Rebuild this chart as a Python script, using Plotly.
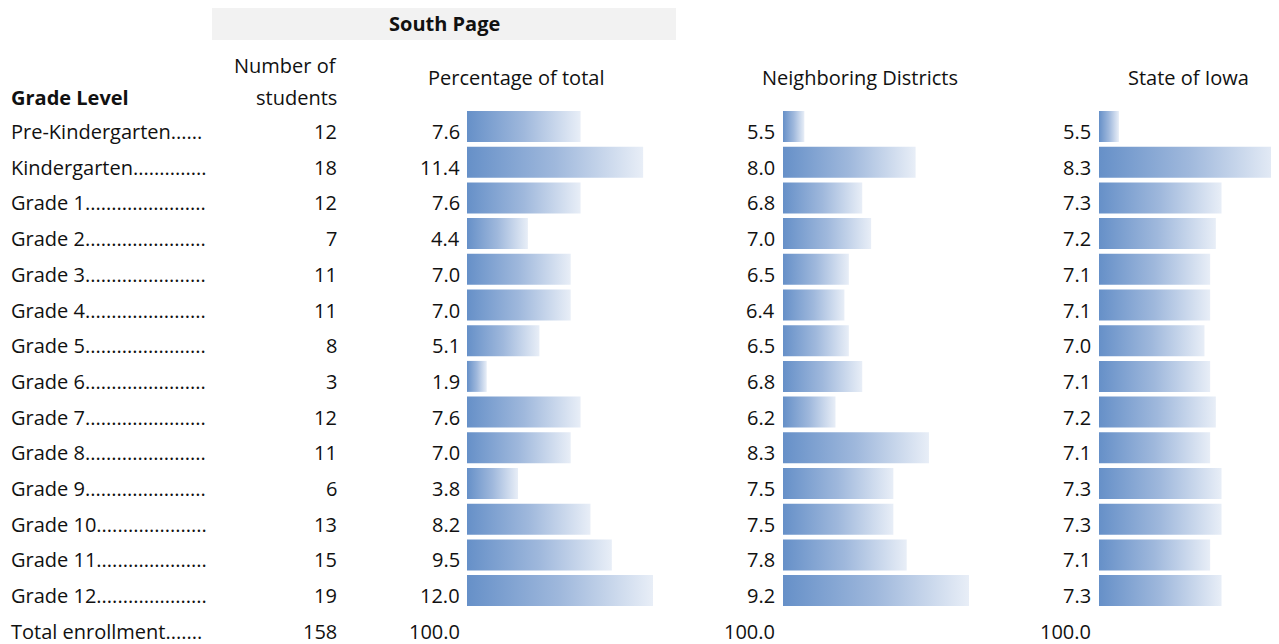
import plotly.graph_objects as go

# ---------------- data ----------------
grade_labels = [
    "Pre-Kindergarten......",
    "Kindergarten..............",
    "Grade 1.......................",
    "Grade 2.......................",
    "Grade 3.......................",
    "Grade 4.......................",
    "Grade 5.......................",
    "Grade 6.......................",
    "Grade 7.......................",
    "Grade 8.......................",
    "Grade 9.......................",
    "Grade 10.....................",
    "Grade 11.....................",
    "Grade 12.....................",
]
total_label = "Total enrollment......."

students = [12, 18, 12, 7, 11, 11, 8, 3, 12, 11, 6, 13, 15, 19]
students_total = 158

pct_total = [7.6, 11.4, 7.6, 4.4, 7.0, 7.0, 5.1, 1.9, 7.6, 7.0, 3.8, 8.2, 9.5, 12.0]
neighboring = [5.5, 8.0, 6.8, 7.0, 6.5, 6.4, 6.5, 6.8, 6.2, 8.3, 7.5, 7.5, 7.8, 9.2]
state_iowa = [5.5, 8.3, 7.3, 7.2, 7.1, 7.1, 7.0, 7.1, 7.2, 7.1, 7.3, 7.3, 7.1, 7.3]
column_totals = ["100.0", "100.0", "100.0"]

title_group = "South Page"
col_headers = ["Percentage of total", "Neighboring Districts", "State of Iowa"]

# ---------------- layout constants ----------------
OFF = 8                      # page body margin of the browser
W, H = 1279 - OFF, 644 - OFF  # figure size
ROW0_PX, ROW_PITCH = 126.5, 35.7   # screen px of first row centre, row pitch
BAR_HALF = 0.434
FONT = "Open Sans, Lato, sans-serif"
FS = 20
TXT = "#111111"
GRAD = [[0, "#6690c8"], [0.5, "#9fb8dc"], [1, "#e8eef7"]]

# per column: (axis name, value at axis start, screen px of start, px per unit, values, label right px)
columns = [
    ("x", 0.70, 467.0, 16.46, pct_total, 462),
    ("x2", 5.02, 783.0, 44.5, neighboring, 777),
    ("x3", 5.15, 1099.0, 57.0, state_iowa, 1093),
]

def px_x(p):
    return (p - OFF) / W

def px_y(p):
    return 1 - (p - OFF) / H

fig = go.Figure()
n = len(grade_labels)

for axname, base, start_px, ppu, vals, lab_px in columns:
    for i, v in enumerate(vals):
        fig.add_trace(go.Scatter(
            x=[base, v, v, base, base],
            y=[i - BAR_HALF, i - BAR_HALF, i + BAR_HALF, i + BAR_HALF, i - BAR_HALF],
            xaxis=axname, yaxis="y",
            mode="lines", fill="toself",
            fillgradient=dict(type="horizontal", colorscale=GRAD),
            line=dict(width=0, color="rgba(0,0,0,0)"),
            hoverinfo="skip", showlegend=False,
        ))

# axes ranges derived from pixel scales
layout_axes = {}
for axname, base, start_px, ppu, vals, lab_px in columns:
    s = start_px - OFF
    lo = base - s / ppu
    hi = base + (W - s) / ppu
    key = "xaxis" if axname == "x" else "xaxis" + axname[1:]
    ax = dict(range=[lo, hi], domain=[0, 1], visible=False, fixedrange=True)
    if axname != "x":
        ax["overlaying"] = "x"
    layout_axes[key] = ax

r0 = ROW0_PX - OFF
y_lo = (H - r0) / ROW_PITCH
y_hi = -r0 / ROW_PITCH

annotations = []
TEXT_SHIFT = -5

def add_text(text, xpx, y, xanchor, bold=False, yref="y", size=FS):
    annotations.append(dict(
        text=("<b>%s</b>" % text) if bold else text,
        x=px_x(xpx), xref="paper", y=y, yref=yref,
        xanchor=xanchor, yanchor="middle", showarrow=False,
        yshift=TEXT_SHIFT if yref == "y" else 0,
        font=dict(family=FONT, size=size, color=TXT),
    ))

# row labels and student counts
for i in range(n):
    add_text(grade_labels[i], 9, i, "left")
    add_text(str(students[i]), 339, i, "right")
add_text(total_label, 9, n, "left")
add_text(str(students_total), 339, n, "right")

# value labels (percent columns)
for axname, base, start_px, ppu, vals, lab_px in columns:
    for i, v in enumerate(vals):
        add_text("%.1f" % v, lab_px, i, "right")
for (axname, base, start_px, ppu, vals, lab_px), t in zip(columns, column_totals):
    add_text(t, lab_px, n, "right")

# headers
add_text(title_group, 444, px_y(24), "center", bold=True, yref="paper")
add_text("Grade Level", 9, px_y(98), "left", bold=True, yref="paper")
add_text("Number of", 339, px_y(66), "right", yref="paper")
add_text("students", 339, px_y(98), "right", yref="paper")
add_text(col_headers[0], 516, px_y(77), "center", yref="paper")
add_text(col_headers[1], 860, px_y(77), "center", yref="paper")
add_text(col_headers[2], 1188, px_y(77), "center", yref="paper")

shapes = [dict(type="rect", xref="paper", yref="paper",
               x0=px_x(212), x1=px_x(676), y0=px_y(40), y1=px_y(5),
               fillcolor="#f2f2f2", line=dict(width=0), layer="below")]

fig.update_layout(
    width=W, height=H,
    margin=dict(l=0, r=0, t=0, b=0),
    paper_bgcolor="white", plot_bgcolor="white",
    yaxis=dict(range=[y_lo, y_hi], domain=[0, 1], visible=False, fixedrange=True),
    annotations=annotations, shapes=shapes,
    showlegend=False,
    **layout_axes,
)

fig.write_html("out.html", config={"displayModeBar": False})
